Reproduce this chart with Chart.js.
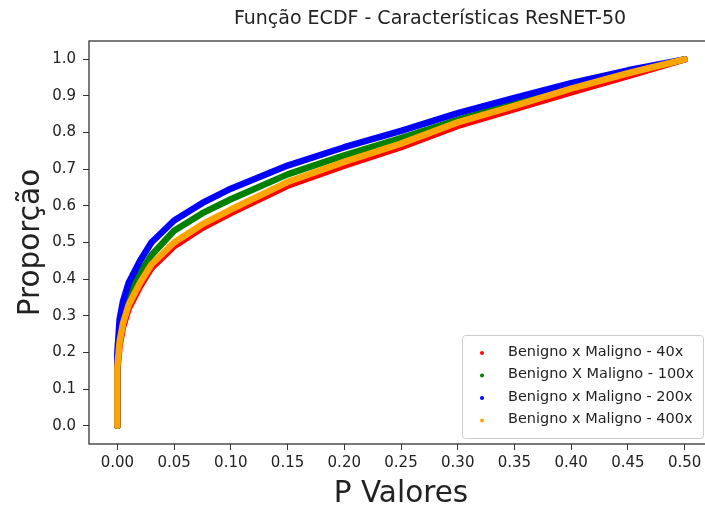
<!DOCTYPE html>
<html>
<head>
<meta charset="utf-8">
<script src="https://cdn.jsdelivr.net/npm/chart.js@4.4.0/dist/chart.umd.min.js"></script>
<style>
    html, body { margin: 0; padding: 0; background: #fff; overflow: hidden; }
    #wrap { width: 720px; height: 510px; }
</style>
</head>
<body>
<div id="wrap"><canvas id="ecdfChart"></canvas></div>
<script>
// P valores (x) shared by the four ECDF curves
const pValores = [0, 0, 0.002, 0.005, 0.01, 0.02, 0.03, 0.05, 0.075, 0.1, 0.15, 0.2, 0.25, 0.3, 0.35, 0.4, 0.45, 0.5];

// Proporção for each magnification
const prop40x  = [0, 0.15, 0.22, 0.27, 0.32, 0.38, 0.43, 0.49, 0.54, 0.58, 0.655, 0.71, 0.76, 0.818, 0.864, 0.91, 0.954, 1.0];
const prop100x = [0, 0.17, 0.26, 0.31, 0.36, 0.418, 0.465, 0.532, 0.58, 0.618, 0.686, 0.738, 0.785, 0.835, 0.879, 0.922, 0.963, 1.0];
const prop200x = [0, 0.20, 0.29, 0.34, 0.39, 0.45, 0.50, 0.56, 0.608, 0.647, 0.71, 0.76, 0.805, 0.853, 0.895, 0.935, 0.97, 1.0];
const prop400x = [0, 0.16, 0.23, 0.28, 0.33, 0.39, 0.44, 0.50, 0.55, 0.59, 0.665, 0.72, 0.77, 0.828, 0.873, 0.92, 0.962, 1.0];

const seriesLabels = ['Benigno x Maligno - 40x', 'Benigno X Maligno - 100x', 'Benigno x Maligno - 200x', 'Benigno x Maligno - 400x'];
const seriesColors = ['#ff0000', '#008000', '#0000ff', '#ffa500'];

const xTicks = [0, 0.05, 0.1, 0.15, 0.2, 0.25, 0.3, 0.35, 0.4, 0.45, 0.5];
const xTickLabels = ['0.00', '0.05', '0.10', '0.15', '0.20', '0.25', '0.30', '0.35', '0.40', '0.45', '0.50'];
const yTicks = [0, 0.1, 0.2, 0.3, 0.4, 0.5, 0.6, 0.7, 0.8, 0.9, 1.0];
const yTickLabels = ['0.0', '0.1', '0.2', '0.3', '0.4', '0.5', '0.6', '0.7', '0.8', '0.9', '1.0'];

const chartTitle = 'Função ECDF - Características ResNET-50';

const FONT = 'DejaVu Sans';
const TEXT = '#222';

function toPoints(ys) {
    return ys.map((y, i) => ({ x: pValores[i], y: y }));
}

// later series are drawn on top, like the scatter calls in the original
const datasets = [prop40x, prop100x, prop200x, prop400x].map((ys, i) => ({
    label: seriesLabels[i],
    data: toPoints(ys),
    showLine: true,
    borderColor: seriesColors[i],
    backgroundColor: seriesColors[i],
    borderWidth: 6.5,
    borderJoinStyle: 'round',
    borderCapStyle: 'round',
    pointRadius: 0,
    pointHoverRadius: 0,
    order: 3 - i
}));

// box round the axes (all four spines)
const frame = {
    id: 'frame',
    afterDatasetsDraw(chart) {
        const { ctx, chartArea: a } = chart;
        ctx.save();
        ctx.strokeStyle = '#333';
        ctx.lineWidth = 1.3;
        ctx.strokeRect(a.left, a.top, a.right - a.left, a.bottom - a.top);
        ctx.restore();
    }
};

// title sits a bit right of the axes centre in the picture
const topTitle = {
    id: 'topTitle',
    afterDraw(chart) {
        const { ctx, chartArea: a } = chart;
        ctx.save();
        ctx.font = '19px "' + FONT + '"';
        ctx.fillStyle = TEXT;
        ctx.textAlign = 'center';
        ctx.textBaseline = 'middle';
        ctx.fillText(chartTitle, (a.left + a.right) / 2 + 29, 19);
        ctx.restore();
    }
};

// legend drawn inside the axes, lower right
const insideLegend = {
    id: 'insideLegend',
    afterDraw(chart) {
        const { ctx, chartArea: a } = chart;
        const w = 241, h = 103;
        const x0 = a.right - 10 - w;
        const y0 = a.bottom - 6 - h;
        ctx.save();
        ctx.fillStyle = 'rgba(255,255,255,0.8)';
        ctx.strokeStyle = '#cccccc';
        ctx.lineWidth = 1;
        ctx.beginPath();
        ctx.roundRect(x0 + 0.5, y0 + 0.5, w, h, 3);
        ctx.fill();
        ctx.stroke();
        ctx.font = '14.5px "' + FONT + '"';
        ctx.textBaseline = 'middle';
        chart.data.datasets.forEach((ds, i) => {
            const cy = y0 + 17 + i * 22.5;
            ctx.fillStyle = ds.borderColor;
            ctx.beginPath();
            ctx.arc(x0 + 20, cy + 1, 2, 0, Math.PI * 2);
            ctx.fill();
            ctx.fillStyle = TEXT;
            ctx.fillText(ds.label, x0 + 46, cy);
        });
        ctx.restore();
    }
};

const ctx = document.getElementById('ecdfChart').getContext('2d');
const chart = new Chart(ctx, {
    type: 'scatter',
    data: { datasets: datasets },
    options: {
        responsive: true,
        maintainAspectRatio: false,
        animation: false,
        devicePixelRatio: 1,
        layout: { padding: { left: 0, right: 7, top: 41, bottom: 0 } },
        scales: {
            x: {
                type: 'linear',
                min: -0.025,
                max: 0.525,
                afterBuildTicks: (s) => { s.ticks = xTicks.map(v => ({ value: v })); },
                afterFit: (s) => { s.height = 66; },
                ticks: {
                    callback: (v, i) => xTickLabels[i],
                    font: { size: 15, family: FONT },
                    color: TEXT,
                    padding: 4,
                    maxRotation: 0,
                    autoSkip: false
                },
                grid: { drawOnChartArea: false, drawTicks: true, tickLength: 6, color: '#333', tickWidth: 1 },
                border: { display: false },
                title: {
                    display: true,
                    text: 'P Valores',
                    font: { size: 29.5, family: FONT },
                    color: TEXT,
                    padding: { top: 0, bottom: -2 }
                }
            },
            y: {
                type: 'linear',
                min: -0.05,
                max: 1.05,
                afterBuildTicks: (s) => { s.ticks = yTicks.map(v => ({ value: v })); },
                afterFit: (s) => { s.width = 89; },
                ticks: {
                    callback: (v, i) => yTickLabels[i],
                    font: { size: 15, family: FONT },
                    color: TEXT,
                    padding: 7,
                    autoSkip: false
                },
                grid: { drawOnChartArea: false, drawTicks: true, tickLength: 6, color: '#333', tickWidth: 1 },
                border: { display: false },
                title: {
                    display: true,
                    text: 'Proporção',
                    font: { size: 29.5, family: FONT },
                    color: TEXT,
                    padding: { top: 14, bottom: 0 }
                }
            }
        },
        plugins: {
            legend: { display: false },
            tooltip: { enabled: false },
            title: { display: false }
        }
    },
    plugins: [frame, topTitle, insideLegend]
});
</script>
</body>
</html>
